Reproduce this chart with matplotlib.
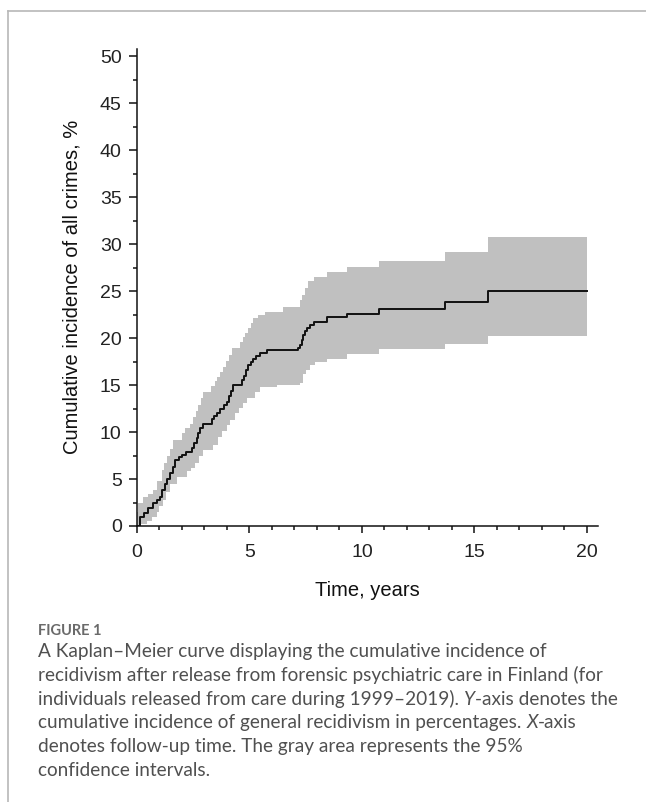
import numpy as np
import matplotlib.pyplot as plt
from matplotlib.lines import Line2D
from matplotlib.ticker import MultipleLocator

# Kaplan-Meier estimate (cumulative incidence, %), step changes at these times (years)
km_time = [0, 0.13, 0.3, 0.5, 0.73, 0.9, 1.02, 1.13, 1.24, 1.35, 1.47, 1.58, 1.69, 1.85, 1.98,
           2.2, 2.45, 2.55, 2.65, 2.73, 2.82, 2.92, 3.32, 3.43, 3.54, 3.7, 3.85, 3.99, 4.1, 4.2,
           4.28, 4.65, 4.75, 4.85, 4.95, 5.06, 5.17, 5.3, 5.47, 5.76, 7.17, 7.25, 7.32, 7.4, 7.47,
           7.58, 7.69, 7.87, 8.43, 9.32, 10.76, 13.7, 15.59, 20]
km_value = [0, 1.0, 1.4, 1.9, 2.4, 2.8, 3.1, 3.8, 4.5, 5.0, 5.6, 6.3, 7.0, 7.3, 7.6,
            7.9, 8.3, 8.8, 9.4, 9.9, 10.4, 10.9, 11.4, 11.7, 12.0, 12.5, 12.9, 13.2, 13.8, 14.4,
            15.0, 15.5, 16.0, 16.6, 17.1, 17.5, 17.8, 18.1, 18.4, 18.7, 18.9, 19.3, 19.8, 20.3, 20.7,
            21.1, 21.4, 21.7, 22.2, 22.6, 23.1, 23.8, 25.0, 25.0]

# 95% confidence limits
upper_time = [0, 0.06, 0.28, 0.5, 0.73, 0.9, 1.1, 1.2, 1.32, 1.45, 1.62, 1.98, 2.15, 2.36, 2.5,
              2.62, 2.73, 2.85, 2.95, 3.3, 3.45, 3.54, 3.7, 3.84, 3.95, 4.08, 4.21, 4.6, 4.7, 4.8,
              4.95, 5.05, 5.17, 5.4, 5.69, 6.5, 7.24, 7.32, 7.45, 7.61, 7.87, 8.43, 9.32, 10.76,
              13.7, 15.59, 20]
upper_value = [1.5, 2.4, 3.1, 3.4, 3.8, 4.8, 6.0, 6.7, 7.4, 8.2, 9.1, 9.9, 10.4, 10.9, 11.6,
               12.2, 12.9, 13.6, 14.3, 14.9, 15.4, 15.9, 16.4, 16.9, 17.6, 18.2, 18.9, 19.6, 20.1, 20.5,
               21.1, 21.6, 22.1, 22.5, 22.8, 23.3, 24.0, 24.6, 25.3, 26.1, 26.5, 27.0, 27.6, 28.2,
               29.1, 30.7, 30.7]
lower_time = [0, 0.2, 0.43, 0.65, 0.87, 1.0, 1.17, 1.3, 1.47, 1.76, 2.21, 2.4, 2.58, 2.75, 2.95,
              3.4, 3.61, 3.8, 3.99, 4.15, 4.36, 4.55, 4.7, 4.88, 5.24, 5.47, 6.21, 7.24, 7.39, 7.5,
              7.69, 7.91, 8.43, 9.32, 10.76, 13.7, 15.59, 20]
lower_value = [0, 0.2, 0.5, 1.0, 1.5, 2.1, 2.8, 3.6, 4.5, 5.2, 5.8, 6.2, 6.7, 7.4, 8.1,
               8.6, 9.5, 10.1, 10.7, 11.3, 12.0, 12.6, 13.1, 13.6, 14.3, 14.8, 15.0, 15.2, 16.2, 16.6,
               17.1, 17.5, 17.8, 18.3, 18.8, 19.4, 20.2, 20.2]

y_ticks = [0, 5, 10, 15, 20, 25, 30, 35, 40, 45, 50]
x_ticks = [0, 5, 10, 15, 20]


def step_at(t, v, grid):
    # value of a right-continuous step function on a grid
    idx = np.searchsorted(np.asarray(t), grid, side='right') - 1
    return np.asarray(v)[idx]


fig = plt.figure(figsize=(6.46, 8.02), dpi=100)

# page frame (top and left rule)
fig.add_artist(Line2D([8 / 646, 1], [1 - 11 / 802] * 2, color='#b8b8b8', lw=1.2))
fig.add_artist(Line2D([8 / 646] * 2, [0, 1 - 11 / 802], color='#b8b8b8', lw=1.2))

ax = fig.add_axes([137 / 646, 276 / 802, 461 / 646, 477.5 / 802])

grid = np.union1d(upper_time, lower_time)
ax.fill_between(grid, step_at(lower_time, lower_value, grid), step_at(upper_time, upper_value, grid),
                step='post', color='#c0c0c0', lw=0)
ax.step(km_time, km_value, where='post', color='#111111', lw=1.4)

ax.set_xlim(0, 20.5)
ax.set_ylim(0, 50.8)
ax.set_xticks(x_ticks)
ax.set_yticks(y_ticks)
ax.xaxis.set_minor_locator(MultipleLocator(1))
ax.yaxis.set_minor_locator(MultipleLocator(2.5))

for s in ['top', 'right']:
    ax.spines[s].set_visible(False)
for s in ['left', 'bottom']:
    ax.spines[s].set_linewidth(1.1)
    ax.spines[s].set_color('#111111')

ax.tick_params(axis='y', which='major', length=6, width=1.1, pad=5, color='#111111')
ax.tick_params(axis='y', which='minor', length=3, width=1.1, color='#111111')
ax.tick_params(axis='x', which='major', length=5, width=1.1, pad=8, color='#111111')
ax.tick_params(axis='x', which='minor', length=3, width=1.1, color='#111111')
for lab in ax.get_xticklabels() + ax.get_yticklabels():
    lab.set_fontfamily('Liberation Sans')
    lab.set_fontsize(14)
    lab.set_color('#222222')

ax.set_xlabel('Time, years', family='Liberation Sans', size=14.5, color='#111111', labelpad=14)
ax.set_ylabel('Cumulative incidence of all crimes, %', family='Liberation Sans', size=14.5,
              color='#111111', labelpad=13)

# caption
cap_font = 'Lato'
fig.text(38 / 646, 1 - 635 / 802, 'FIGURE 1', family=cap_font, size=10.5, color='#6a6a6a',
         weight='bold')

caption_lines = [
    [('A Kaplan\u2013Meier curve displaying the cumulative incidence of', 'normal')],
    [('recidivism after release from forensic psychiatric care in Finland (for', 'normal')],
    [('individuals released from care during 1999\u20132019). ', 'normal'), ('Y', 'italic'),
     ('-axis denotes the', 'normal')],
    [('cumulative incidence of general recidivism in percentages. ', 'normal'), ('X', 'italic'),
     ('-axis', 'normal')],
    [('denotes follow-up time. The gray area represents the 95%', 'normal')],
    [('confidence intervals.', 'normal')],
]

renderer = fig.canvas.get_renderer()
y0 = 657
for i, parts in enumerate(caption_lines):
    ypix = y0 + i * 23.8
    xpix = 38
    for txt, style in parts:
        t = fig.text(xpix / 646, 1 - ypix / 802, txt, family=cap_font, size=13.7,
                     style=style, color='#505050')
        bb = t.get_window_extent(renderer=renderer)
        xpix += bb.width

fig.savefig('out.png', dpi=100)
